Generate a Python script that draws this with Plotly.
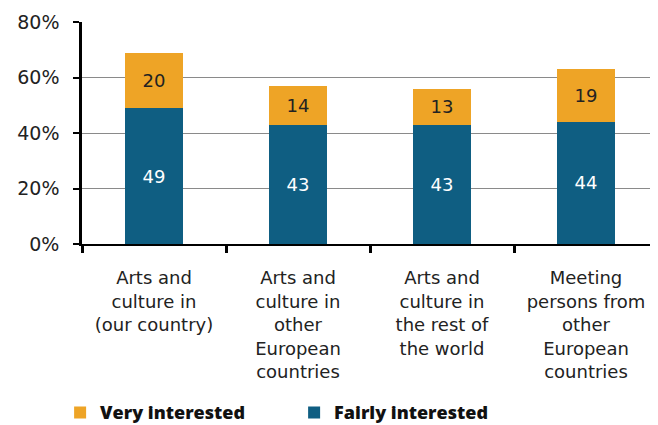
import plotly.graph_objects as go

categories = [
    "Arts and<br>culture in<br>(our country)",
    "Arts and<br>culture in<br>other<br>European<br>countries",
    "Arts and<br>culture in<br>the rest of<br>the world",
    "Meeting<br>persons from<br>other<br>European<br>countries",
]
fairly = [49, 43, 43, 44]
very = [20, 14, 13, 19]
y_ticks = [0, 20, 40, 60, 80]
y_tick_text = ["0%", "20%", "40%", "60%", "80%"]

ORANGE = "#EEA426"
BLUE = "#0F5E82"
FONT = "DejaVu Sans"

fig = go.Figure()
fig.add_trace(go.Bar(
    x=categories, y=fairly, name="Fairly interested",
    marker=dict(color=BLUE, line=dict(width=0)),
    text=[str(v) for v in fairly], textposition="inside",
    insidetextanchor="middle",
    textfont=dict(color="white", size=18, family=FONT),
    legendrank=2,
))
fig.add_trace(go.Bar(
    x=categories, y=very, name="Very interested",
    marker=dict(color=ORANGE, line=dict(width=0)),
    text=[str(v) for v in very], textposition="inside",
    insidetextanchor="middle",
    textfont=dict(color="#222222", size=18, family=FONT),
    legendrank=1,
))

fig.update_layout(
    width=650, height=417,
    barmode="stack", bargap=0.6,
    plot_bgcolor="white", paper_bgcolor="white",
    margin=dict(l=74, r=0, t=14, b=181, autoexpand=False),
    font=dict(family=FONT, size=17, color="#222222"),
    uniformtext=dict(mode="show", minsize=10),
    legend=dict(
        orientation="h", x=-0.038, xanchor="left", y=-0.76, yanchor="middle",
        font=dict(family="Open Sans", size=18, color="#111111", weight=800),
        itemwidth=30, entrywidth=189, entrywidthmode="pixels",
        traceorder="normal",
    ),
    showlegend=True,
)
fig.update_xaxes(
    showline=True, linecolor="black", linewidth=1.5,
    ticks="outside", tickson="boundaries", ticklen=7, tickwidth=3, tickcolor="black",
    tickfont=dict(family=FONT, size=18, color="#222222"),
    ticklabelstandoff=17,
    showgrid=False,
)
fig.update_yaxes(
    range=[0, 80], tickvals=y_ticks, ticktext=y_tick_text,
    showline=True, linecolor="black", linewidth=2.5,
    ticks="outside", ticklen=6, tickwidth=1.5, tickcolor="black",
    showgrid=True, gridcolor="#8a8a8a", gridwidth=1,
    tickfont=dict(family=FONT, size=19, color="#222222"),
    ticklabelstandoff=10,
    zeroline=False,
)

fig.write_html("out.html")
